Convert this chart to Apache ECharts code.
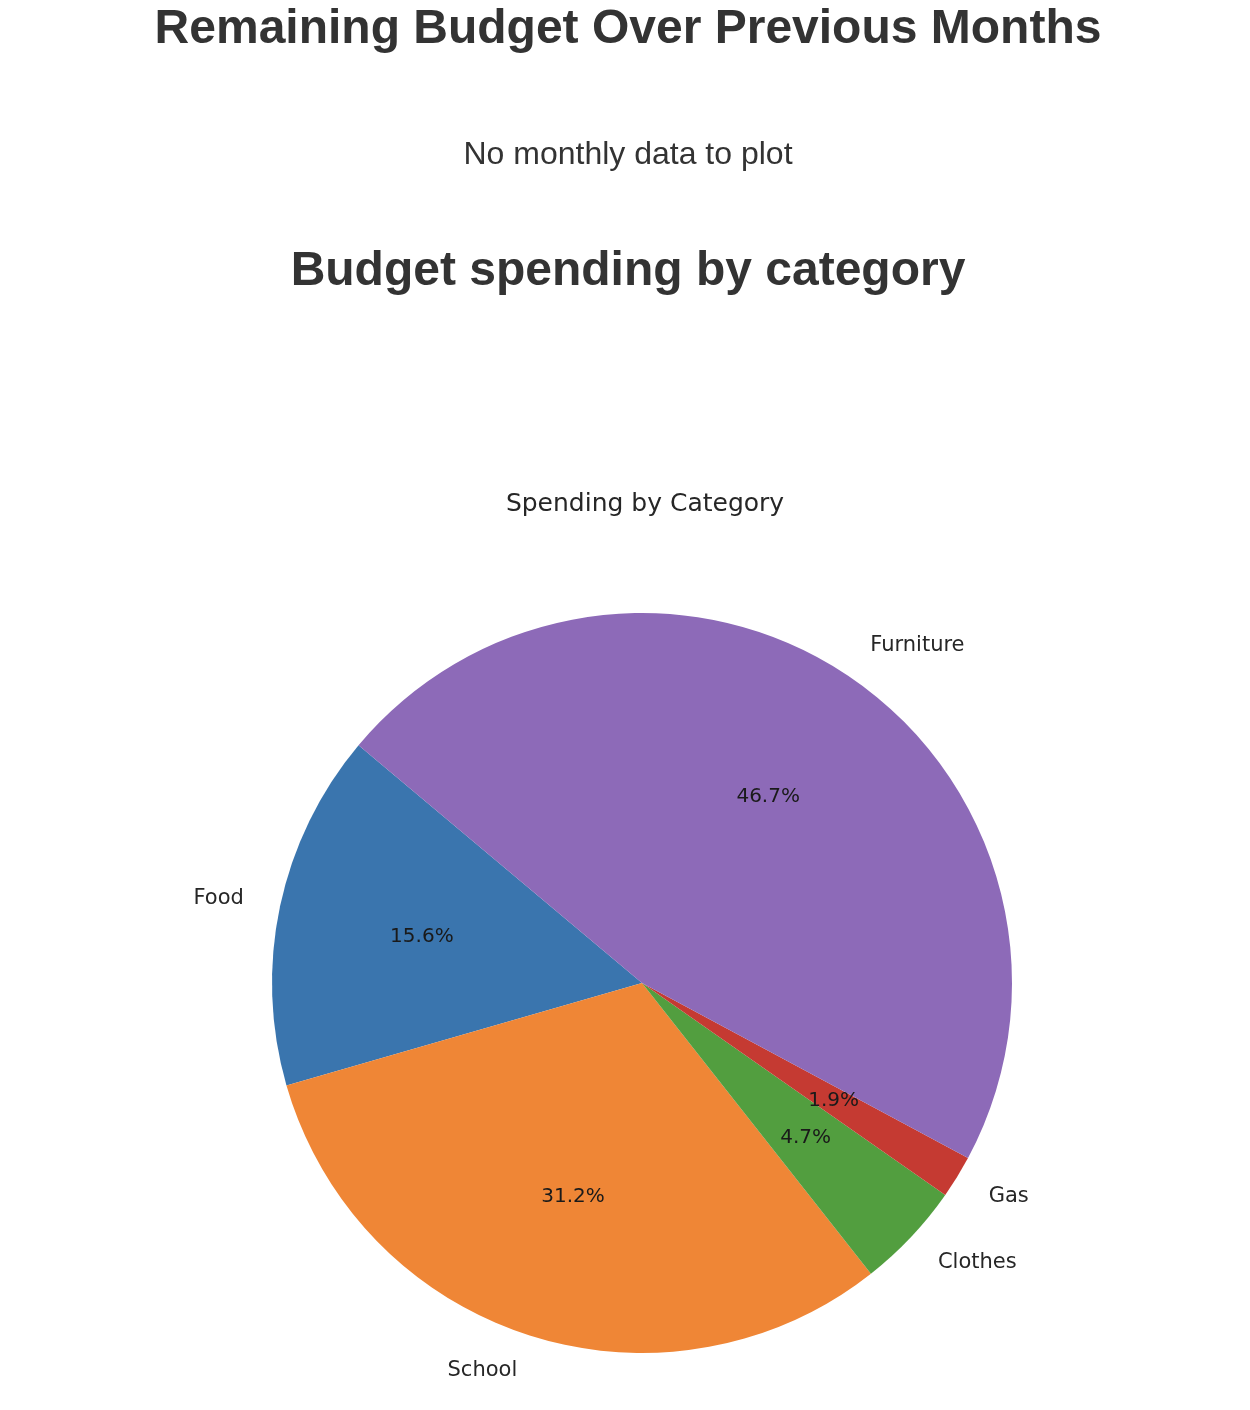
<!DOCTYPE html>
<html>
<head>
<meta charset="utf-8">
<script src="https://cdn.jsdelivr.net/npm/echarts@6/dist/echarts.min.js"></script>
<style>
html,body{margin:0;padding:0;background:#fff;}
#chart{width:1250px;height:1410px;}
</style>
</head>
<body>
<div id="chart"></div>
<script>
const categories = ['Food', 'School', 'Clothes', 'Gas', 'Furniture'];
const spending = [250, 500, 75, 30, 750];
const sliceColors = ['#3a75ae', '#ef8636', '#529e3f', '#c53a32', '#8d6ab8'];

const total = spending.reduce((a, b) => a + b, 0);
const chart = echarts.init(document.getElementById('chart'));

const outerData = categories.map((c, i) => ({ name: c, value: spending[i], itemStyle: { color: sliceColors[i] } }));
const pctData = categories.map((c, i) => ({ name: c, value: spending[i] }));

chart.setOption({
  animation: false,
  backgroundColor: '#ffffff',
  title: [
    { text: 'Remaining Budget Over Previous Months', left: 623, top: 1, textAlign: 'center',
      textStyle: { fontFamily: 'Liberation Sans', fontWeight: 'bold', fontSize: 48, color: '#333333' } },
    { text: 'No monthly data to plot', left: 623, top: 134, textAlign: 'center',
      textStyle: { fontFamily: 'Liberation Sans', fontWeight: 'normal', fontSize: 32, color: '#333333' } },
    { text: 'Budget spending by category', left: 623, top: 243, textAlign: 'center',
      textStyle: { fontFamily: 'Liberation Sans', fontWeight: 'bold', fontSize: 48, color: '#333333' } },
    { text: 'Spending by Category', left: 640, top: 487, textAlign: 'center',
      textStyle: { fontFamily: 'DejaVu Sans', fontWeight: 'normal', fontSize: 25, color: '#262626' } }
  ],
  series: [
    {
      type: 'pie',
      center: [642, 983],
      radius: [0, 370],
      startAngle: 140,
      clockwise: false,
      avoidLabelOverlap: false,
      silent: true,
      data: outerData,
      itemStyle: { borderWidth: 0 },
      label: {
        show: true, position: 'outside', alignTo: 'none', distanceToLabelLine: 0,
        fontFamily: 'DejaVu Sans', fontSize: 21, color: '#262626'
      },
      labelLine: { show: false, length: 37, length2: 0 },
      emphasis: { disabled: true }
    },
    {
      type: 'pie',
      center: [642, 983],
      radius: [0, 444],
      startAngle: 140,
      clockwise: false,
      avoidLabelOverlap: false,
      silent: true,
      data: pctData,
      itemStyle: { color: 'rgba(0,0,0,0)', borderWidth: 0 },
      label: {
        show: true, position: 'inside',
        fontFamily: 'DejaVu Sans', fontSize: 20, color: '#1a1a1a',
        formatter: p => (p.value / total * 100).toFixed(1) + '%'
      },
      labelLine: { show: false },
      emphasis: { disabled: true }
    }
  ]
});
</script>
</body>
</html>
